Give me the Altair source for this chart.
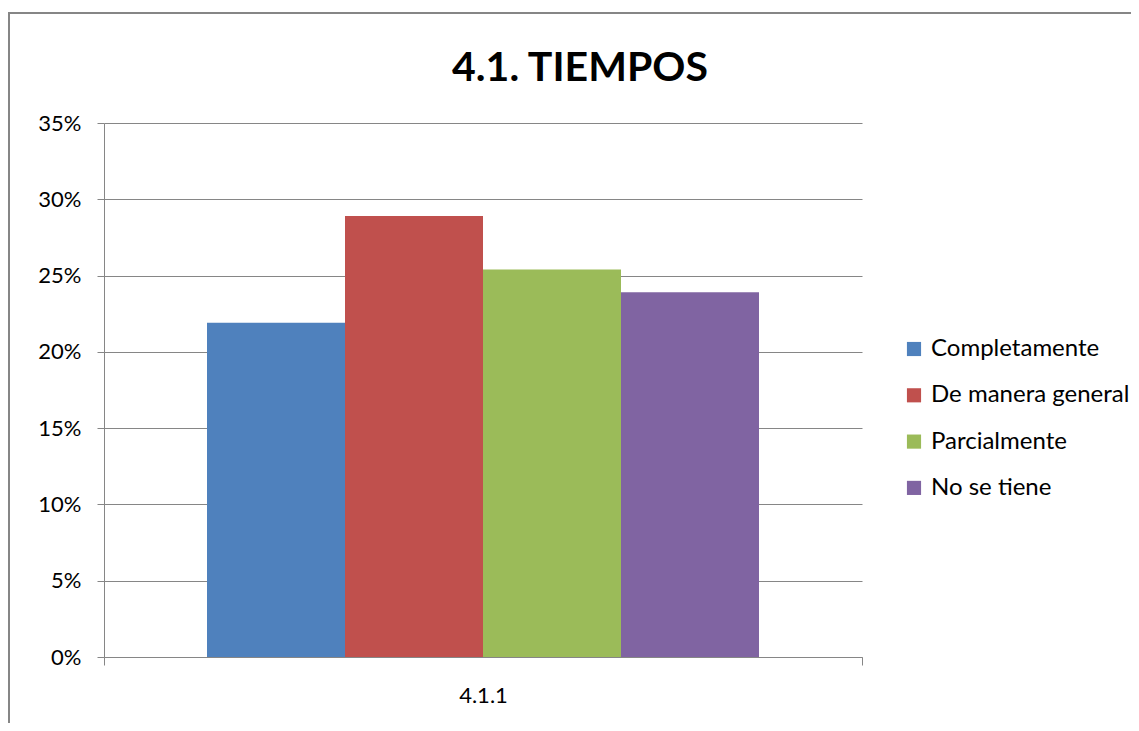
import altair as alt
import pandas as pd

grupos = ["4.1.1"]
series = ["Completamente", "De manera general", "Parcialmente", "No se tiene"]
valores = [0.219, 0.289, 0.254, 0.239]
colores = ["#4F81BD", "#C0504D", "#9BBB59", "#8064A2"]
y_ticks = [0, 0.05, 0.10, 0.15, 0.20, 0.25, 0.30, 0.35]

df = pd.DataFrame({
    "grupo": [grupos[0]] * len(series),
    "serie": series,
    "valor": valores,
})

FONT = "Lato"
GRID = "#868686"

bars = alt.Chart(df).mark_bar().encode(
    x=alt.X("grupo:N", title=None,
            scale=alt.Scale(paddingInner=0, paddingOuter=0),
            axis=alt.Axis(labelAngle=0, tickBand="extent", tickSize=8,
                          tickColor=GRID, domainColor=GRID, labelFont=FONT,
                          labelFontSize=22, labelColor="black", labelPadding=20,
                          grid=False)),
    xOffset=alt.XOffset("serie:N", sort=series,
                        scale=alt.Scale(domain=series, paddingInner=0, paddingOuter=0.7464)),
    y=alt.Y("valor:Q", title=None,
            scale=alt.Scale(domain=[0, 0.35], nice=False),
            axis=alt.Axis(values=y_ticks, format=".0%", tickSize=7, tickColor=GRID,
                          domainColor=GRID, gridColor=GRID, gridWidth=1,
                          labelFont=FONT, labelFontSize=22, labelColor="black",
                          labelPadding=16)),
    color=alt.Color("serie:N", sort=series,
                    scale=alt.Scale(domain=series, range=colores),
                    legend=alt.Legend(title=None, orient="none", legendX=798, legendY=214,
                                      symbolType="square", symbolSize=200,
                                      symbolStrokeWidth=0, labelFont=FONT,
                                      labelFontSize=24, labelColor="black",
                                      rowPadding=22.3, labelLimit=400, labelOffset=5)),
)

frame = alt.Chart(pd.DataFrame({"k": [0]})).mark_rect(
    fillOpacity=0, stroke=GRID, strokeWidth=2, clip=False
).encode(
    x=alt.value(-95), x2=alt.value(1100),
    y=alt.value(-110), y2=alt.value(700),
)

chart = alt.layer(frame, bars).properties(
    width=758, height=534,
    padding={"left": 96, "top": 115, "right": 269, "bottom": 66},
    autosize=alt.AutoSizeParams(type="none"),
    title=alt.TitleParams("4.1. TIEMPOS", font=FONT, fontSize=41, fontWeight="bold",
                          color="black", anchor="middle", dx=97, baseline="alphabetic",
                          offset=0, dy=110),
).configure_view(stroke=None)

chart.save("out.html", embed_options={"renderer": "svg", "actions": False})
